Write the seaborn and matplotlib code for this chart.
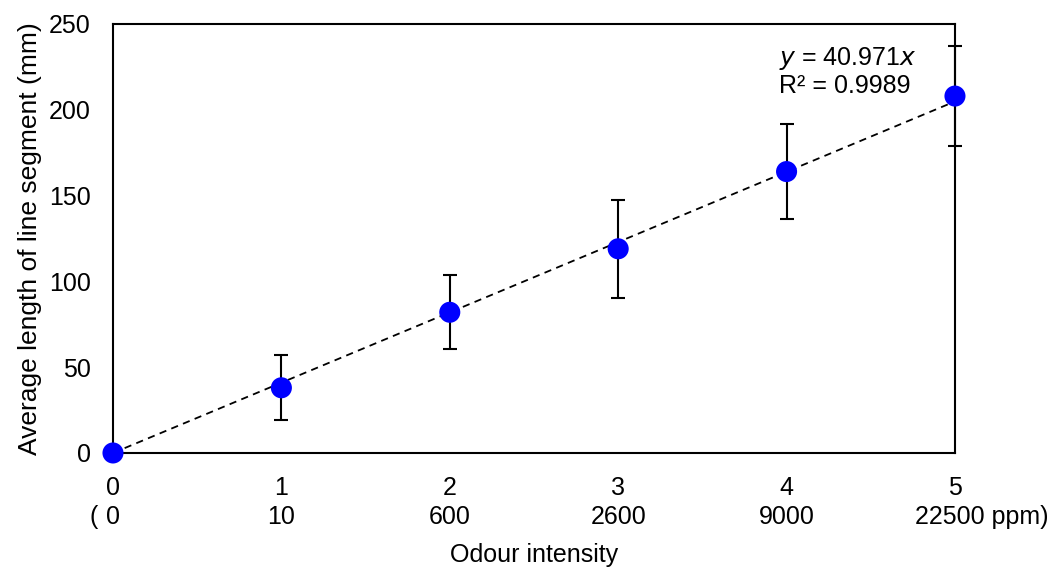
import matplotlib
matplotlib.use("Agg")
import matplotlib.pyplot as plt
import matplotlib.transforms as mtransforms
import seaborn as sns
import numpy as np
import pandas as pd

# ---- data ----
intensity = [0, 1, 2, 3, 4, 5]
ppm_labels = ["0", "10", "600", "2600", "9000", "22500"]
mean_length = [0, 38, 82, 119, 164, 208]
err_length = [0, 19, 21.5, 28.5, 27.5, 29]
slope = 40.971
r2 = 0.9989
y_ticks = [0, 50, 100, 150, 200, 250]

sns.set_theme(style="white")
plt.rcParams['font.family'] = ['Liberation Sans', 'DejaVu Sans']
plt.rcParams['text.color'] = 'black'
plt.rcParams['axes.labelcolor'] = 'black'
plt.rcParams['xtick.color'] = 'black'
plt.rcParams['ytick.color'] = 'black'

FS = 18

fig = plt.figure(figsize=(10.53, 5.70), dpi=100)
ax = fig.add_axes([0.1073, 0.2053, 0.7996, 0.7526])

df = pd.DataFrame({"x": intensity, "y": mean_length, "e": err_length})

# trend line
fit = pd.DataFrame({"x": [intensity[0], intensity[-1]],
                    "y": [slope * intensity[0], slope * intensity[-1]]})
sns.lineplot(data=fit, x="x", y="y", ax=ax, color="black", linestyle=(0, (4, 3)),
             linewidth=1.3, zorder=2)

# error bars
mask = df["e"] > 0
ax.errorbar(df["x"][mask], df["y"][mask], yerr=df["e"][mask], fmt="none",
            ecolor="black", elinewidth=1.5, capsize=5, capthick=1.5, zorder=3, clip_on=False)

sns.scatterplot(data=df, x="x", y="y", ax=ax, color="#0000FF", s=230,
                edgecolor="none", zorder=4, clip_on=False)

ax.set_xlim(0, 5)
ax.set_ylim(0, 250)
ax.set_yticks(y_ticks)
ax.set_xticks(intensity)
ax.set_xticklabels([str(v) for v in intensity])

for s in ax.spines.values():
    s.set_color("black")
    s.set_linewidth(1.5)
ax.tick_params(axis="both", direction="in", length=6, width=1.2, colors="black",
               labelsize=FS)
ax.tick_params(axis="x", pad=16.5)
ax.tick_params(axis="y", pad=16)

# second row of x labels (ppm)
row2_y = -0.1492
trans = mtransforms.blended_transform_factory(ax.transData, ax.transAxes)
for xi, lab in zip(intensity[:-1], ppm_labels[:-1]):
    ax.text(xi, row2_y, lab, transform=trans, ha="center", va="center", fontsize=FS)
# brackets / unit
ax.annotate("(", xy=(intensity[0], row2_y), xycoords=trans, xytext=(-10.8, 0),
            textcoords="offset points", ha="right", va="center", fontsize=FS)
ax.annotate(ppm_labels[-1] + " ppm)", xy=(intensity[-1], row2_y), xycoords=trans,
            xytext=(-29, 0), textcoords="offset points",
            ha="left", va="center", fontsize=FS)

ax.set_xlabel("Odour intensity", fontsize=FS)
ax.xaxis.set_label_coords(0.5, -0.2378)
ax.xaxis.label.set_va("center")
ax.set_ylabel("Average length of line segment (mm)", fontsize=FS + 1)
ax.yaxis.set_label_coords(-0.0986, 0.5)
ax.yaxis.label.set_va("center")

ax.text(3.955, 230, "$\\it{y}$ = 40.971$\\it{x}$", fontsize=FS, ha="left", va="center")
ax.text(3.955, 214, f"R² = {r2}", fontsize=FS, ha="left", va="center")

fig.savefig("out.png", dpi=100)
